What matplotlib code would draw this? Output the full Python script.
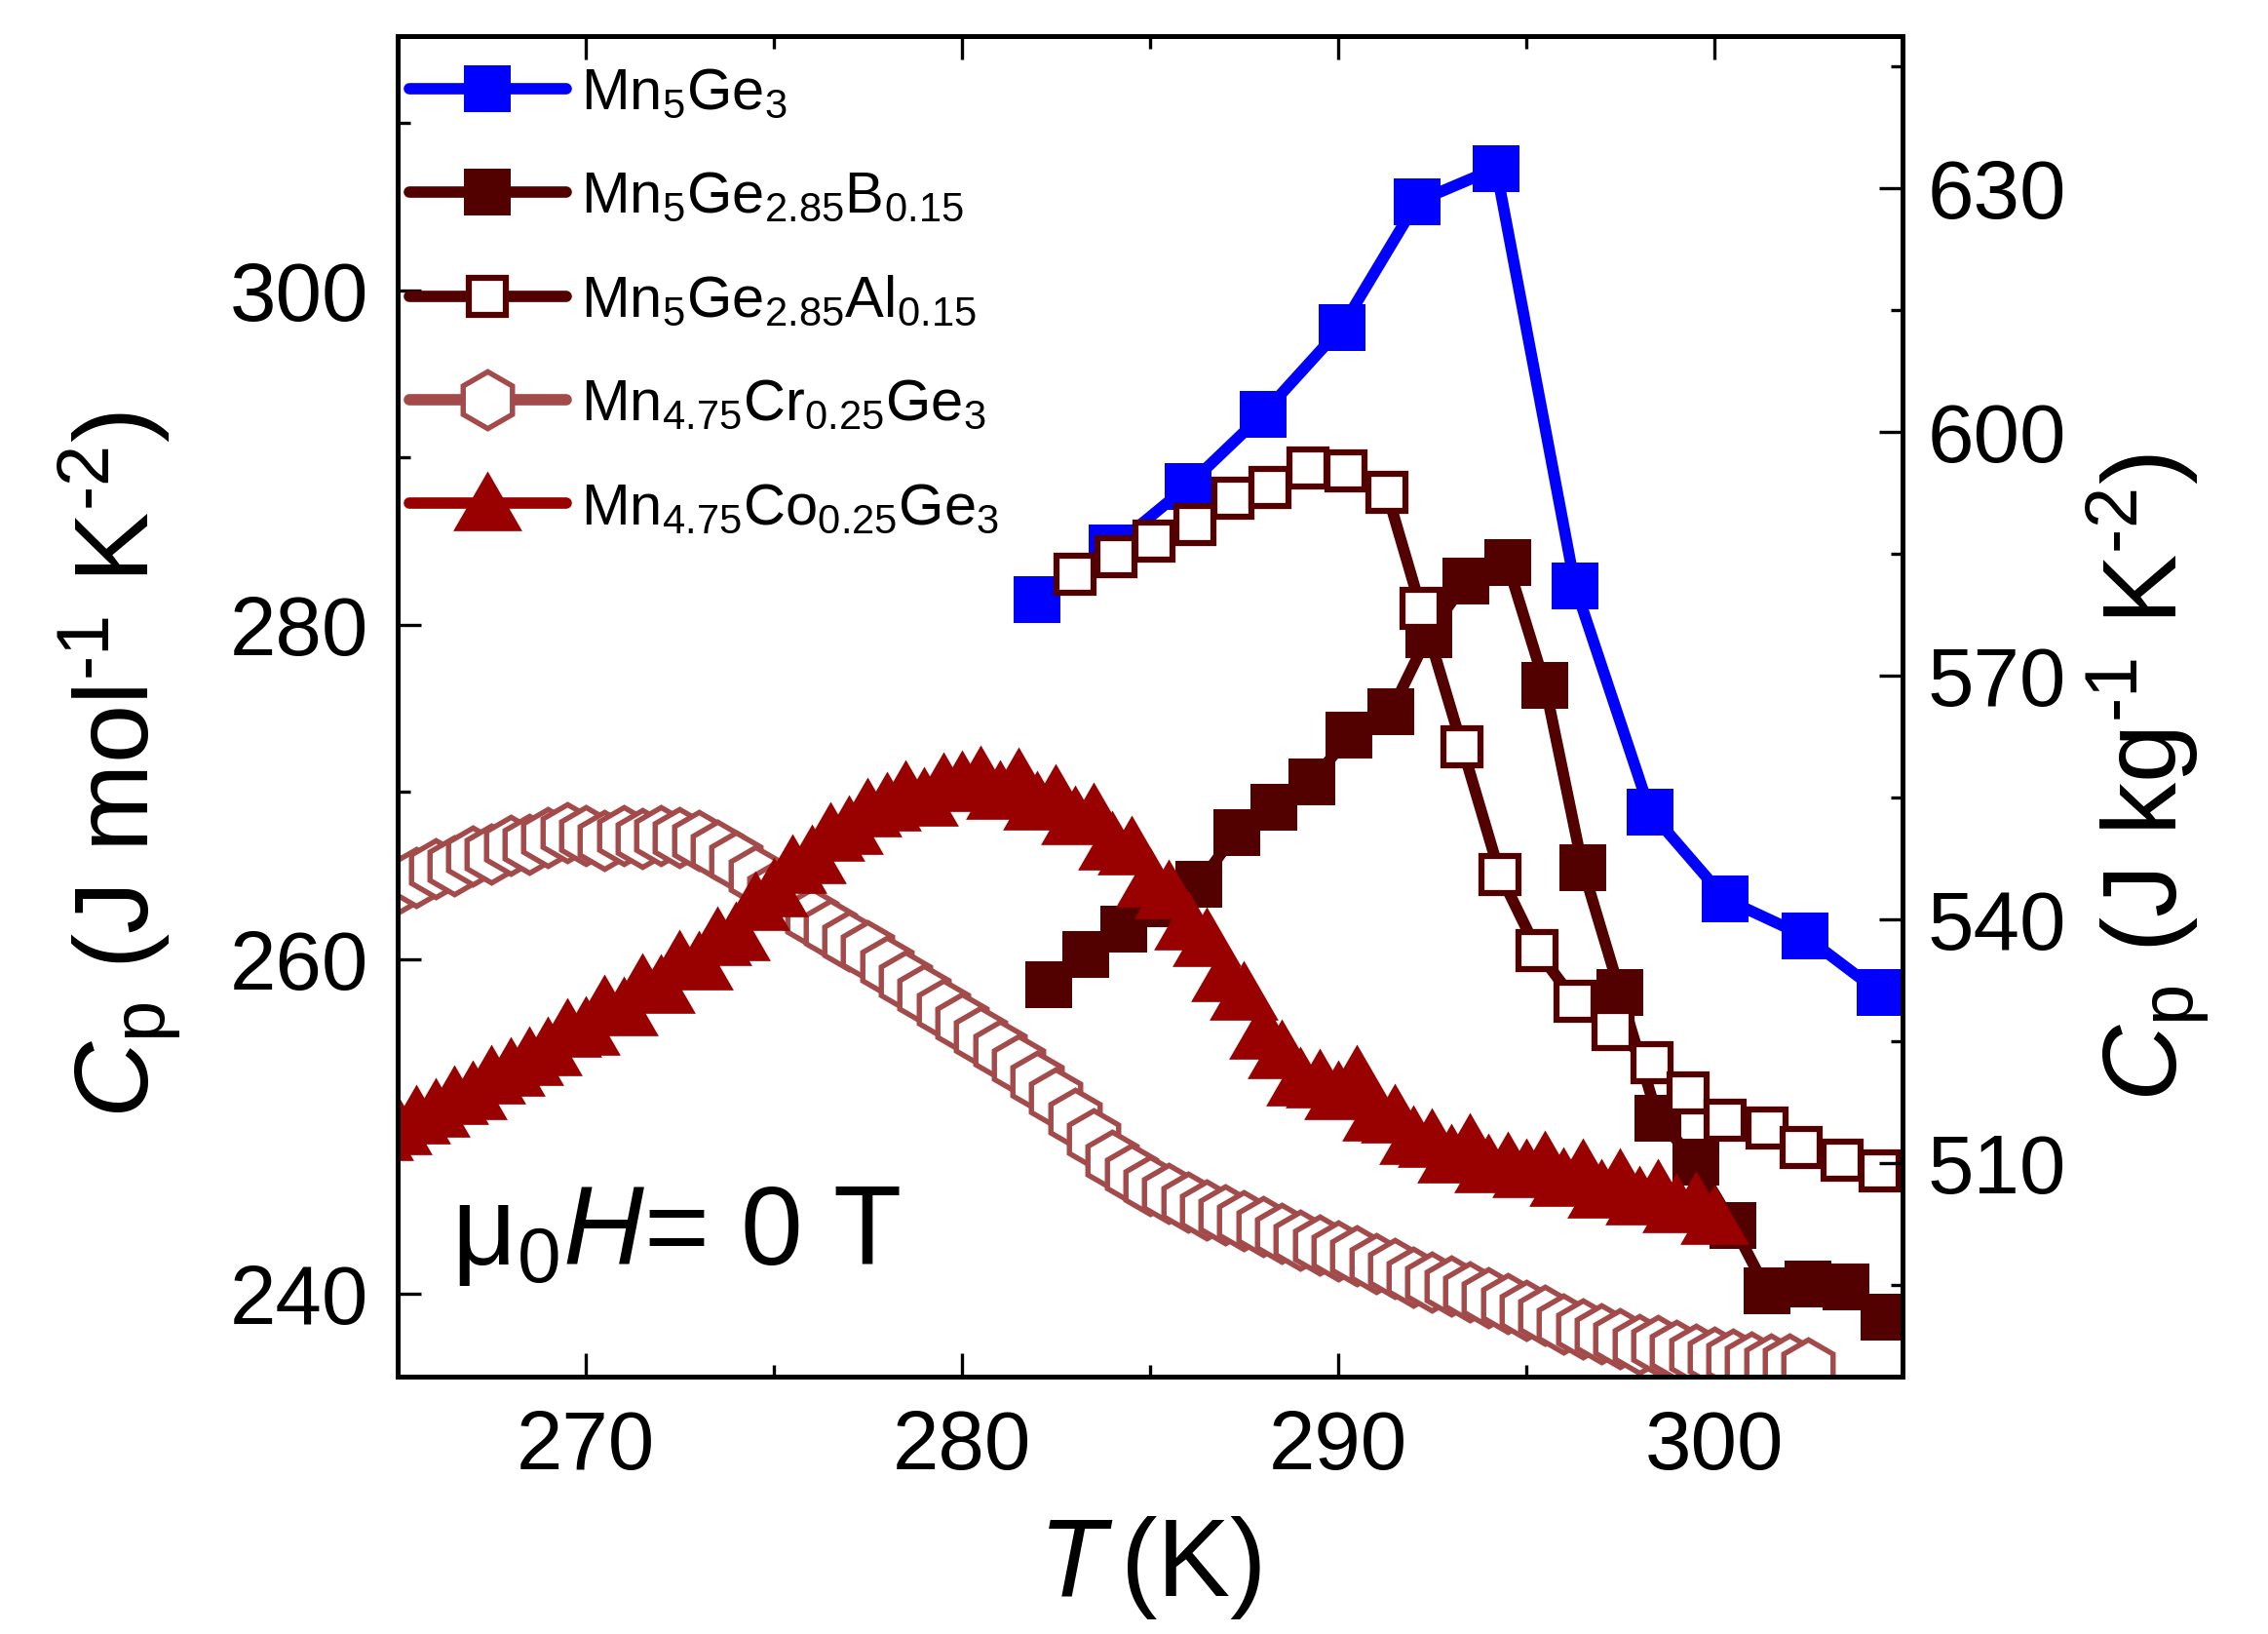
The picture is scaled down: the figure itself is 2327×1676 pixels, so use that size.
import numpy as np
import matplotlib
matplotlib.use("Agg")
import matplotlib.pyplot as plt
from matplotlib.ticker import MultipleLocator
from matplotlib.path import Path

plt.rcParams['font.family'] = ['Liberation Sans', 'DejaVu Sans']
plt.rcParams['mathtext.fontset'] = 'custom'
plt.rcParams['mathtext.rm'] = 'Liberation Sans'
plt.rcParams['mathtext.it'] = 'Liberation Sans:italic'
plt.rcParams['mathtext.bf'] = 'Liberation Sans:bold'

# --- data (T in K, Cp in J mol-1 K-2) ---
labels = [r'Mn$_5$Ge$_3$',
          r'Mn$_5$Ge$_{2.85}$B$_{0.15}$',
          r'Mn$_5$Ge$_{2.85}$Al$_{0.15}$',
          r'Mn$_{4.75}$Cr$_{0.25}$Ge$_3$',
          r'Mn$_{4.75}$Co$_{0.25}$Ge$_3$']

T_ge3 = [282.0, 284.0, 286.0, 288.0, 290.1, 292.1, 294.2, 296.3, 298.3, 300.3, 302.4, 304.4]
cp_ge3 = [281.5, 284.6, 288.3, 292.6, 297.8, 305.3, 307.3, 282.3, 268.8, 263.6, 261.4, 258.0]

T_b = [282.3, 283.3, 284.3, 285.3, 286.3, 287.3, 288.3, 289.3, 290.3, 291.4, 292.4, 293.4,
       294.5, 295.5, 296.5, 297.5, 298.5, 299.5, 300.5, 301.4, 302.5, 303.5, 304.5]
cp_b = [258.5, 260.3, 261.8, 263.3, 264.5, 267.6, 269.1, 270.6, 273.4, 274.8, 279.4, 282.6,
        283.7, 276.4, 265.5, 258.0, 250.5, 247.9, 244.1, 240.2, 240.6, 240.4, 238.6]

T_al = [283.0, 284.1, 285.1, 286.2, 287.2, 288.2, 289.2, 290.2, 291.3, 292.2, 293.3,
        294.3, 295.3, 296.3, 297.3, 298.35, 299.3, 300.3, 301.4, 302.3, 303.4, 304.4]
cp_al = [283.0, 284.05, 285.0, 286.0, 287.6, 288.2, 289.4, 289.2, 287.9, 281.0, 272.7,
         265.1, 260.5, 257.5, 255.8, 253.8, 252.0, 250.4, 249.9, 248.75, 248.0, 247.35]

T_cr = [264.5, 265.0, 265.5, 266.0, 266.5, 267.0, 267.5, 268.0, 268.5, 269.0, 269.5, 270.0,
        270.5, 271.0, 271.5, 272.0, 272.5, 273.0, 273.5, 274.0, 274.5, 275.0, 275.5, 276.0,
        276.5, 277.0, 277.5, 278.0, 278.5, 279.0, 279.5, 280.0, 280.5, 281.0, 281.5, 282.0,
        282.5, 283.0, 283.5, 284.0, 284.5, 285.0, 285.5, 286.0, 286.5, 287.0, 287.5, 288.0,
        288.5, 289.0, 289.5, 290.0, 290.5, 291.0, 291.5, 292.0, 292.5, 293.0, 293.5, 294.0,
        294.5, 295.0, 295.5, 296.0, 296.5, 297.0, 297.5, 298.0, 298.5, 299.0, 299.5, 300.0,
        300.5, 301.0, 301.5, 302.0, 302.5]
cp_cr = [264.0, 264.5, 264.9, 265.4, 265.6, 266.2, 266.3, 266.8, 266.9, 267.3, 267.6, 267.4,
         267.1, 267.4, 267.2, 267.4, 267.3, 267.1, 266.5, 265.9, 265.0, 264.0, 263.3, 262.5,
         261.8, 261.1, 260.5, 259.6, 258.7, 257.9, 257.0, 256.2, 255.4, 254.6, 253.7, 252.7,
         251.7, 250.5, 249.3, 248.0, 247.2, 246.5, 246.0, 245.5, 245.0, 244.7, 244.4, 244.0,
         243.6, 243.2, 242.9, 242.6, 242.3, 241.8, 241.5, 241.0, 240.7, 240.5, 240.1, 239.8,
         239.4, 239.0, 238.7, 238.2, 237.9, 237.6, 237.3, 237.0, 236.9, 236.6, 236.4, 236.2,
         236.1, 235.9, 235.8, 235.8, 235.6]

T_co = [264.5, 265.0, 265.5, 266.0, 266.5, 267.0, 267.5, 268.0, 268.5, 269.0, 269.5, 270.0,
        270.5, 271.0, 271.5, 272.0, 272.5, 273.0, 273.5, 274.0, 274.5, 275.0, 275.5, 276.0,
        276.5, 277.0, 277.5, 278.0, 278.5, 279.0, 279.5, 280.0, 280.5, 281.0, 281.5, 282.0,
        282.5, 283.0, 283.5, 284.0, 284.5, 285.0, 285.5, 286.0, 286.5, 287.0, 287.5, 288.0,
        288.5, 289.0, 289.5, 290.0, 290.5, 291.0, 291.5, 292.0, 292.5, 293.0, 293.5, 294.0,
        294.5, 295.0, 295.5, 296.0, 296.5, 297.0, 297.5, 298.0, 298.5, 299.0, 299.5, 300.0]
cp_co = [249.6, 250.0, 250.6, 251.0, 251.8, 252.1, 253.0, 253.5, 254.1, 254.7, 255.8, 255.9,
         257.2, 257.1, 258.5, 258.4, 259.9, 259.8, 261.3, 261.6, 263.4, 264.2, 265.6, 266.2,
         267.5, 267.9, 269.0, 269.3, 270.0, 269.6, 270.5, 270.6, 270.9, 270.0, 270.8, 269.4,
         269.8, 268.5, 268.7, 267.0, 266.7, 264.8, 264.1, 262.2, 261.2, 259.1, 258.0, 255.7,
         254.5, 252.9, 252.8, 252.1, 253.0, 250.8, 250.7, 249.4, 249.2, 248.3, 248.9, 247.7,
         247.8, 247.4, 247.9, 246.9, 247.4, 246.2, 246.8, 245.8, 246.2, 245.3, 245.4, 244.6]

# conversion J/mol -> J/kg for the right axis
mol_to_kg = 2.058

# equilateral-ish triangle marker
tri = Path([(0, 0.932), (-1, -0.8), (1, -0.8), (0, 0.932)],
           [Path.MOVETO, Path.LINETO, Path.LINETO, Path.CLOSEPOLY])

fig = plt.figure(figsize=(2327 / 300, 1676 / 300), dpi=300)
ax = fig.add_axes([0.1753, 0.1575, 0.6635, 0.8204])

line_kw = dict(lw=2.8, solid_capstyle='round', solid_joinstyle='round')
ax.plot(T_ge3, cp_ge3, '-s', color='#0000ff', ms=11.5, mew=0, label=labels[0], **line_kw)
ax.plot(T_b, cp_b, '-s', color='#520000', ms=11.5, mew=0, label=labels[1], **line_kw)
ax.plot(T_al, cp_al, '-s', color='#520000', mfc='white', mec='#520000', ms=9, mew=1.5,
        label=labels[2], **line_kw)
ax.plot(T_cr, cp_cr, '-h', color='#a34a4a', mfc='white', mec='#a34a4a', ms=14, mew=1.3,
        label=labels[3], **line_kw)
ax.plot(T_co, cp_co, '-', marker=tri, color='#990000', ms=17, mew=0, label=labels[4], **line_kw)

ax.set_xlim(265, 305)
ax.set_ylim(235.05, 315.2)
ax.xaxis.set_major_locator(MultipleLocator(10))
ax.xaxis.set_minor_locator(MultipleLocator(5))
ax.yaxis.set_major_locator(MultipleLocator(20))
ax.yaxis.set_minor_locator(MultipleLocator(10))
ax.tick_params(which='both', direction='in', top=True, right=False, width=0.8)
ax.tick_params(which='major', length=5.8, labelsize=20.5)
ax.tick_params(which='minor', length=3.0)
ax.tick_params(axis='x', pad=8)
ax.tick_params(axis='y', pad=7.2)
for sp in ax.spines.values():
    sp.set_linewidth(1.2)

ax2 = ax.twinx()
ax2.set_ylim(235.05 * mol_to_kg, 315.2 * mol_to_kg)
ax2.yaxis.set_major_locator(MultipleLocator(30))
ax2.yaxis.set_minor_locator(MultipleLocator(15))
ax2.tick_params(which='both', direction='in', width=0.8)
ax2.tick_params(which='major', length=5.8, labelsize=20.5, pad=6.2)
ax2.tick_params(which='minor', length=3.0)
for sp in ax2.spines.values():
    sp.set_linewidth(1.2)

hy = '\u2010'
ax.set_xlabel(r'$\mathit{T}\,$(K)', fontsize=27)
ax.xaxis.set_label_coords(0.5, -0.1025)
ax.set_ylabel(r'$\mathit{C}_{\mathrm{p}}$ (J mol$^{' + hy + r'1}$ K$^{' + hy + r'2}$)', fontsize=26)
ax.yaxis.set_label_coords(-0.141, 0.456)
ax2.set_ylabel(r'$\mathit{C}_{\mathrm{p}}$ (J kg$^{' + hy + r'1}$ K$^{' + hy + r'2}$)',
               fontsize=26, rotation=90)
ax2.yaxis.set_label_coords(1.122, 0.447)

ax.text(0.0356, 0.0836, r'μ$_0$$\mathit{H}$= 0 T', transform=ax.transAxes,
        fontsize=27.5, va='baseline', ha='left')

ax.legend(loc='upper left', bbox_to_anchor=(0.0078, 0.977), frameon=False, fontsize=14.3,
          handlelength=2.7, handletextpad=0.26, labelspacing=0.86,
          borderaxespad=0, borderpad=0)

fig.savefig('out.png', dpi=300)
